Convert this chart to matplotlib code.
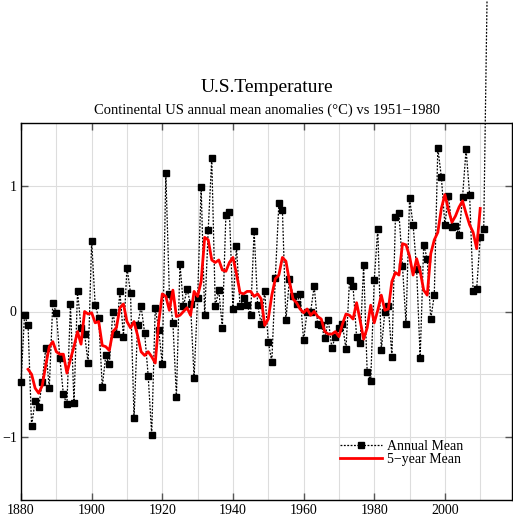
import matplotlib
matplotlib.use("Agg")
import matplotlib.pyplot as plt
import numpy as np

# annual mean anomalies (deg C), 1880-2012
years = np.arange(1880, 2013)
annual = [
    -0.56, -0.03, -0.11, -0.91, -0.71, -0.76, -0.56, -0.29, -0.61, 0.07,
    -0.01, -0.37, -0.66, -0.74, 0.06, -0.73, 0.16, -0.13, -0.18, -0.41,
    0.56, 0.05, -0.05, -0.60, -0.35, -0.42, 0.00, -0.18, 0.16, -0.20,
    0.35, 0.15, -0.85, -0.11, 0.04, -0.17, -0.51, -0.98, 0.03, -0.15,
    -0.42, 1.10, 0.14, -0.09, -0.68, 0.38, 0.04, 0.18, 0.06, -0.53,
    0.11, 0.99, -0.03, 0.65, 1.22, 0.04, 0.17, -0.13, 0.77, 0.79,
    0.02, 0.52, 0.04, 0.11, 0.05, -0.03, 0.64, 0.05, -0.10, 0.16,
    -0.24, -0.40, 0.27, 0.86, 0.81, -0.07, 0.26, 0.12, 0.06, 0.14,
    -0.23, 0.00, 0.00, 0.20, -0.10, -0.11, -0.21, -0.07, -0.29, -0.20,
    -0.13, -0.10, -0.30, 0.25, 0.20, -0.20, -0.25, 0.37, -0.48, -0.55,
    0.25, 0.66, -0.31, 0.00, 0.04, -0.36, 0.75, 0.78, 0.36, -0.10,
    0.90, 0.69, 0.34, -0.37, 0.53, 0.42, -0.06, 0.13, 1.30, 1.07,
    0.69, 0.92, 0.67, 0.68, 0.61, 0.91, 1.29, 0.93, 0.16, 0.18,
    0.59, 0.66, 2.62,
]

# 5-year mean, 1882-2010
years5 = np.arange(1882, 2011)
mean5 = [
    -0.46, -0.50, -0.61, -0.65, -0.59, -0.43, -0.28, -0.24,
    -0.32, -0.34, -0.34, -0.49, -0.38, -0.28, -0.16, -0.26, 0.00, -0.02,
    -0.01, -0.09, -0.08, -0.27, -0.28, -0.31, -0.16, -0.13, 0.03, 0.06,
    -0.08, -0.13, -0.08, -0.19, -0.32, -0.35, -0.32, -0.36, -0.41, -0.08,
    0.14, 0.12, 0.01, 0.17, -0.04, -0.03, 0.00, 0.03, -0.03, 0.16,
    0.12, 0.24, 0.59, 0.57, 0.41, 0.39, 0.41, 0.33, 0.32, 0.39,
    0.43, 0.30, 0.15, 0.14, 0.16, 0.16, 0.12, 0.14, 0.10, -0.11,
    -0.06, 0.13, 0.26, 0.29, 0.43, 0.40, 0.24, 0.10, 0.07, 0.02,
    -0.01, 0.02, -0.03, 0.00, -0.04, -0.06, -0.16, -0.18, -0.18, -0.16,
    -0.20, -0.10, -0.02, -0.03, -0.06, 0.07, -0.07, -0.22, -0.13, 0.05,
    -0.09, 0.01, 0.13, 0.01, 0.02, 0.24, 0.31, 0.29, 0.54, 0.53,
    0.44, 0.29, 0.42, 0.32, 0.17, 0.13, 0.46, 0.57, 0.63, 0.82,
    0.93, 0.81, 0.71, 0.76, 0.83, 0.88, 0.78, 0.69, 0.63, 0.50,
    0.82,
]

plt.rcParams["font.family"] = ["Liberation Serif", "DejaVu Serif"]

fig = plt.figure(figsize=(5.13, 5.17), dpi=100)
ax = fig.add_axes([21 / 513, 17 / 517, 491 / 513, 377 / 517])

ax.plot(years, annual, color="black", linestyle=(0, (1.5, 1.2)), linewidth=0.9,
        marker="s", markersize=4.5, label="Annual Mean", clip_on=False)
ax.plot(years5, mean5, color="red", linewidth=2, label="5\u2212year Mean")

ax.set_xlim(1880, 2019)
ax.set_ylim(-1.5, 1.5)
ax.set_xticks(np.arange(1880, 2011, 20))
ax.set_xticks(np.arange(1890, 2020, 10), minor=True)
ax.set_yticks([-1, 0, 1])
ax.set_yticks(np.arange(-1.5, 1.6, 0.5), minor=True)
ax.grid(which="both", color="#dddddd", linewidth=0.8)
ax.set_axisbelow(True)

ax.tick_params(which="major", direction="in", length=5, width=1, color="#555555",
               top=True, right=True, labelsize=10, pad=3)
ax.tick_params(which="minor", length=0)
for s in ax.spines.values():
    s.set_linewidth(1)
    s.set_color("black")

ax.legend(loc="lower left", bbox_to_anchor=(0.65, 0.09), frameon=False,
          fontsize=10, handlelength=3, handletextpad=0.35, labelspacing=0,
          borderpad=0, borderaxespad=0, numpoints=1)

fig.text(266.5 / 513, 1 - 88 / 517, "U.S.Temperature", ha="center", va="center",
         fontsize=14)
fig.text(266.5 / 513, 1 - 110.5 / 517,
         "Continental US annual mean anomalies (\u00b0C) vs 1951\u22121980",
         ha="center", va="center", fontsize=10.5)

fig.savefig("out.png", dpi=100)
